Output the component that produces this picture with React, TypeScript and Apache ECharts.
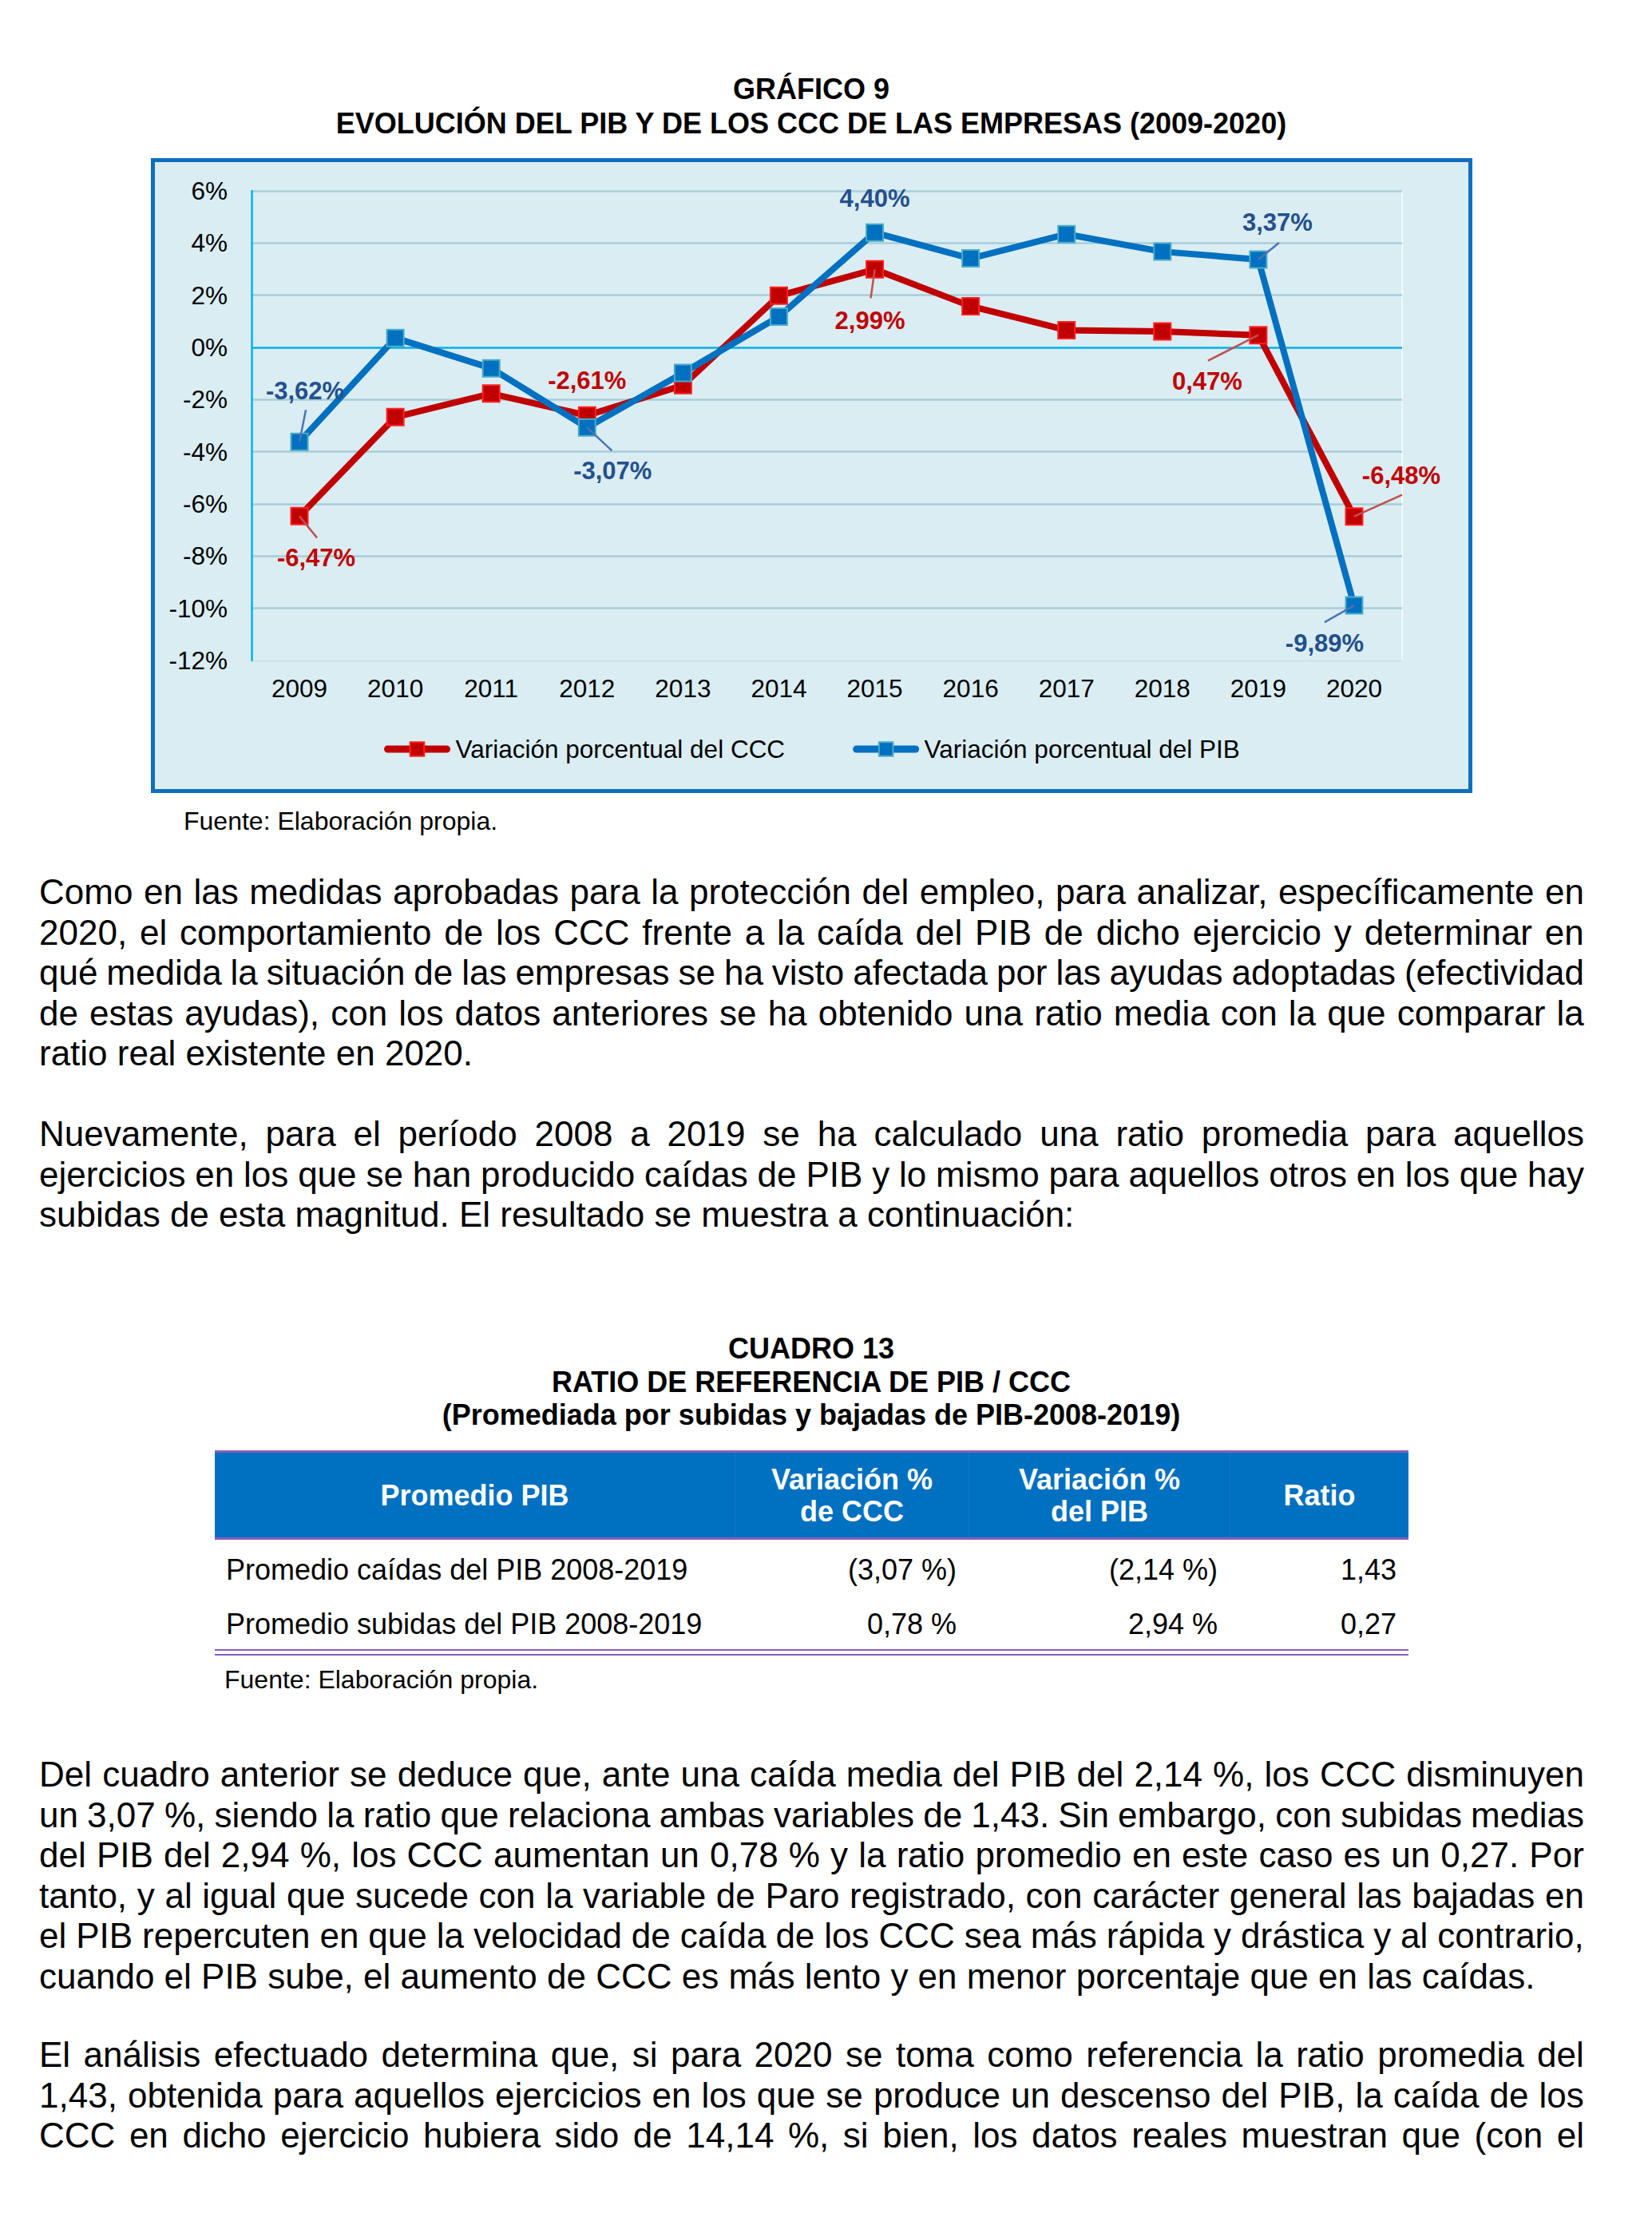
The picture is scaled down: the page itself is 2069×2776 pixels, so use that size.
import React, { useEffect, useRef } from "react";
import * as echarts from "echarts";

// ---------------- DATA ----------------
const YEARS = ["2009", "2010", "2011", "2012", "2013", "2014", "2015", "2016", "2017", "2018", "2019", "2020"];
const CCC = [-6.47, -2.67, -1.77, -2.61, -1.45, 1.98, 2.99, 1.58, 0.66, 0.61, 0.47, -6.48];
const PIB = [-3.62, 0.36, -0.8, -3.07, -0.98, 1.18, 4.4, 3.41, 4.34, 3.67, 3.37, -9.89];
const SERIES_NAMES = ["Variación porcentual del CCC", "Variación porcentual del PIB"];
const Y_MIN = -12;
const Y_MAX = 6;
const Y_STEP = 2;

const TABLE_HEAD = ["Promedio PIB", "Variación %\nde CCC", "Variación %\ndel PIB", "Ratio"];
const TABLE_ROWS = ["Promedio caídas del PIB 2008-2019", "Promedio subidas del PIB 2008-2019"];
const TABLE_CCC = ["(3,07 %)", "0,78 %"];
const TABLE_PIB = ["(2,14 %)", "2,94 %"];
const TABLE_RATIO = ["1,43", "0,27"];

const CHART_TITLE = ["GRÁFICO 9", "EVOLUCIÓN DEL PIB Y DE LOS CCC DE LAS EMPRESAS (2009-2020)"];
const TABLE_TITLE = ["CUADRO 13", "RATIO DE REFERENCIA DE PIB / CCC", "(Promediada por subidas y bajadas de PIB-2008-2019)"];
const SOURCE = "Fuente: Elaboración propia.";

const PARA1 = [
  "Como en las medidas aprobadas para la protección del empleo, para analizar, específicamente en",
  "2020, el comportamiento de los CCC frente a la caída del PIB de dicho ejercicio y determinar en",
  "qué medida la situación de las empresas se ha visto afectada por las ayudas adoptadas (efectividad",
  "de estas ayudas), con los datos anteriores se ha obtenido una ratio media con la que comparar la",
  "ratio real existente en 2020.",
];
const PARA2 = [
  "Nuevamente, para el período 2008 a 2019 se ha calculado una ratio promedia para aquellos",
  "ejercicios en los que se han producido caídas de PIB y lo mismo para aquellos otros en los que hay",
  "subidas de esta magnitud. El resultado se muestra a continuación:",
];
const PARA3 = [
  "Del cuadro anterior se deduce que, ante una caída media del PIB del 2,14 %, los CCC disminuyen",
  "un 3,07 %, siendo la ratio que relaciona ambas variables de 1,43. Sin embargo, con subidas medias",
  "del PIB del 2,94 %, los CCC aumentan un 0,78 % y la ratio promedio en este caso es un 0,27. Por",
  "tanto, y al igual que sucede con la variable de Paro registrado, con carácter general las bajadas en",
  "el PIB repercuten en que la velocidad de caída de los CCC sea más rápida y drástica y al contrario,",
  "cuando el PIB sube, el aumento de CCC es más lento y en menor porcentaje que en las caídas.",
];
const PARA4 = [
  "El análisis efectuado determina que, si para 2020 se toma como referencia la ratio promedia del",
  "1,43, obtenida para aquellos ejercicios en los que se produce un descenso del PIB, la caída de los",
  "CCC en dicho ejercicio hubiera sido de 14,14 %, si bien, los datos reales muestran que (con el",
];

// ---------------- STYLE CONFIG (label placement, px offsets from point) ----------------
const CCC_LABELS = [
  { i: 0, dx: 21, dy: 52 },
  { i: 3, dx: 0, dy: -44 },
  { i: 6, dx: -6, dy: 64 },
  { i: 10, dx: -64, dy: 58 },
  { i: 11, dx: 59, dy: -51 },
];
const PIB_LABELS = [
  { i: 0, dx: 7, dy: -64 },
  { i: 3, dx: 32, dy: 54 },
  { i: 6, dx: 0, dy: -43 },
  { i: 10, dx: 24, dy: -46 },
  { i: 11, dx: -37, dy: 47 },
];
const CCC_LEADERS = [
  { i: 0, dx: 22, dy: 27 },
  { i: 6, dx: -5, dy: 36 },
  { i: 10, dx: -63, dy: 32 },
  { i: 11, dx: 60, dy: -27 },
];
const PIB_LEADERS = [
  { i: 0, dx: 8, dy: -40 },
  { i: 3, dx: 31, dy: 29 },
  { i: 10, dx: 26, dy: -21 },
  { i: 11, dx: -37, dy: 21 },
];

const FONT = '"Liberation Sans", Arial, Helvetica, sans-serif';
const RED = "#C00000";
const BLUE = "#0070C0";
const BLUE_LABEL = "#24508C";
const PURPLE = "#8560B8";

const fmtPct = (v: number) => v.toFixed(2).replace(".", ",") + "%";

function buildData(arr: number[], labels: { i: number; dx: number; dy: number }[], color: string) {
  return arr.map((v, i) => {
    const l = labels.find((x) => x.i === i);
    if (!l) return v;
    return {
      value: v,
      label: {
        show: true,
        position: "inside",
        offset: [l.dx, l.dy],
        formatter: fmtPct(v),
        color,
        fontWeight: "bold",
        fontSize: 31,
        fontFamily: FONT,
      },
    };
  });
}

function leaderSeries(arr: number[], leaders: { i: number; dx: number; dy: number }[], color: string) {
  return {
    type: "custom",
    silent: true,
    z: 5,
    data: leaders.map((l) => [l.i, arr[l.i], l.dx, l.dy]),
    encode: { x: 0, y: 1 },
    renderItem: (params: any, api: any) => {
      const p = api.coord([api.value(0), api.value(1)]);
      return {
        type: "line",
        shape: { x1: p[0], y1: p[1], x2: p[0] + api.value(2), y2: p[1] + api.value(3) },
        style: { stroke: color, lineWidth: 2.5 },
      };
    },
  };
}

function Chart() {
  const ref = useRef<HTMLDivElement>(null);
  useEffect(() => {
    const chart = echarts.init(ref.current!, null, { renderer: "svg" });
    const grid = "#A7CDD8";
    const splitColors = [];
    for (let v = Y_MIN; v <= Y_MAX; v += Y_STEP) {
      splitColors.push(v === 0 ? "#00B0F0" : v === Y_MIN ? "#CDE3EA" : grid);
    }
    chart.setOption({
      animation: false,
      backgroundColor: "transparent",
      textStyle: { fontFamily: FONT },
      grid: {
        left: 121,
        right: 83,
        top: 36,
        bottom: 161,
        show: true,
        borderColor: "#F4FAFC",
        borderWidth: 2,
        backgroundColor: "transparent",
      },
      legend: {
        data: SERIES_NAMES,
        left: 282,
        top: 714,
        itemWidth: 74,
        itemHeight: 22,
        itemGap: 85,
        selectedMode: false,
        lineStyle: { width: 9, cap: "round" },
        textStyle: { fontSize: 31.5, color: "#000", fontFamily: FONT, padding: [0, 0, 0, 6] },
      },
      xAxis: {
        type: "category",
        data: YEARS,
        boundaryGap: true,
        axisLine: { show: false },
        axisTick: { show: false },
        axisLabel: { color: "#000", fontSize: 31.5, fontFamily: FONT, margin: 19 },
        splitLine: { show: false },
      },
      yAxis: {
        type: "value",
        min: Y_MIN,
        max: Y_MAX,
        interval: Y_STEP,
        axisLine: { show: true, lineStyle: { color: "#00B0F0", width: 2.5 } },
        axisTick: { show: false },
        axisLabel: {
          color: "#000",
          fontSize: 31.5,
          fontFamily: FONT,
          margin: 30,
          formatter: (v: number) => v + "%",
        },
        splitLine: { show: true, lineStyle: { color: splitColors, width: 2.5 } },
      },
      series: [
        {
          name: SERIES_NAMES[0],
          type: "line",
          data: buildData(CCC, CCC_LABELS, RED),
          symbol: "rect",
          symbolSize: 21,
          lineStyle: { color: RED, width: 8 },
          itemStyle: { color: RED, borderColor: "#FF2020", borderWidth: 2 },
          emphasis: { disabled: true },
          z: 2,
        },
        {
          name: SERIES_NAMES[1],
          type: "line",
          data: buildData(PIB, PIB_LABELS, BLUE_LABEL),
          symbol: "rect",
          symbolSize: 21,
          lineStyle: { color: BLUE, width: 8 },
          itemStyle: { color: BLUE, borderColor: "#4BACC6", borderWidth: 2 },
          emphasis: { disabled: true },
          z: 3,
        },
        leaderSeries(CCC, CCC_LEADERS, "#C0504D"),
        leaderSeries(PIB, PIB_LEADERS, "#4A74B4"),
      ],
    });
    return () => chart.dispose();
  }, []);
  return <div ref={ref} style={{ width: 1645, height: 785 }} />;
}

const BODY_LEFT = 49;
const BODY_WIDTH = 1935;
const BODY_FS = 44;
const BODY_LH = 50.5;

function Paragraph({ lines, top, justifyLast }: { lines: string[]; top: number; justifyLast?: boolean }) {
  return (
    <>
      {lines.map((ln, k) => {
        const justify = k < lines.length - 1 || justifyLast;
        const style: React.CSSProperties = {
          position: "absolute",
          left: BODY_LEFT,
          top: top + k * BODY_LH,
          width: BODY_WIDTH,
          height: BODY_LH,
          lineHeight: BODY_LH + "px",
          fontSize: BODY_FS,
          whiteSpace: "pre",
        };
        if (!justify) return <div key={k} style={style}>{ln}</div>;
        const words = ln.split(" ");
        return (
          <div key={k} style={{ ...style, display: "flex", justifyContent: "space-between" }}>
            {words.map((w, j) => (
              <span key={j}>{w}</span>
            ))}
          </div>
        );
      })}
    </>
  );
}

function TitleBlock({ lines, top, lh }: { lines: string[]; top: number; lh: number }) {
  return (
    <>
      {lines.map((t, k) => (
        <div
          key={k}
          style={{
            position: "absolute",
            left: 16,
            width: 2000,
            top: top + k * lh,
            height: lh,
            lineHeight: lh + "px",
            fontSize: 36,
            fontWeight: "bold",
            textAlign: "center",
            whiteSpace: "pre",
          }}
        >
          {t}
        </div>
      ))}
    </>
  );
}

const COLS = [651, 293, 327, 224];

function Table() {
  const left = 269;
  const width = COLS.reduce((a, b) => a + b, 0);
  const rowH = 68;
  return (
    <>
      <div
        style={{
          position: "absolute",
          left,
          top: 1816,
          width,
          height: 112,
          boxSizing: "border-box",
          background: BLUE,
          borderTop: `3px solid ${PURPLE}`,
          borderBottom: `3px solid ${PURPLE}`,
          display: "flex",
          color: "#fff",
          fontWeight: "bold",
          fontSize: 36,
        }}
      >
        {TABLE_HEAD.map((h, k) => (
          <div
            key={k}
            style={{
              width: COLS[k],
              height: "100%",
              display: "flex",
              flexDirection: "column",
              justifyContent: "center",
              alignItems: "center",
              textAlign: "center",
              boxSizing: "border-box",
              borderLeft: k > 0 ? "1px solid rgba(255,255,255,0.08)" : "none",
              paddingTop: 2,
            }}
          >
            {h.split("\n").map((s, j) => (
              <div key={j} style={{ lineHeight: "40px", whiteSpace: "pre" }}>
                {s}
              </div>
            ))}
          </div>
        ))}
      </div>
      {TABLE_ROWS.map((r, k) => {
        const cells = [r, TABLE_CCC[k], TABLE_PIB[k], TABLE_RATIO[k]];
        return (
          <div
            key={k}
            style={{
              position: "absolute",
              left,
              top: 1932 + k * rowH,
              width,
              height: rowH,
              display: "flex",
              fontSize: 36,
              lineHeight: rowH + "px",
            }}
          >
            {cells.map((c, j) => (
              <div
                key={j}
                style={{
                  width: COLS[j],
                  boxSizing: "border-box",
                  textAlign: j === 0 ? "left" : "right",
                  paddingLeft: j === 0 ? 14 : 0,
                  paddingRight: j === 0 ? 0 : 15,
                  whiteSpace: "pre",
                }}
              >
                {c}
              </div>
            ))}
          </div>
        );
      })}
      <div
        style={{
          position: "absolute",
          left,
          top: 2065,
          width,
          height: 8,
          boxSizing: "border-box",
          borderTop: `2.5px solid ${PURPLE}`,
          borderBottom: `2.5px solid ${PURPLE}`,
        }}
      />
    </>
  );
}

export default function App() {
  useEffect(() => {
    document.body.style.margin = "0";
  }, []);
  return (
    <div
      style={{
        position: "absolute",
        left: 0,
        top: 0,
        width: 2069,
        height: 2776,
        background: "#fff",
        color: "#000",
        fontFamily: FONT,
        overflow: "hidden",
      }}
    >
      <TitleBlock lines={CHART_TITLE} top={91} lh={42.5} />
      <div
        style={{
          position: "absolute",
          left: 189,
          top: 198,
          width: 1655,
          height: 795,
          boxSizing: "border-box",
          border: "5px solid #0E6FBF",
          background: "#DAEDF3",
        }}
      >
        <Chart />
      </div>
      <div style={{ position: "absolute", left: 230, top: 1012, fontSize: 32, lineHeight: "32px", whiteSpace: "pre" }}>
        {SOURCE}
      </div>
      <Paragraph lines={PARA1} top={1092} />
      <Paragraph lines={PARA2} top={1395} />
      <TitleBlock lines={TABLE_TITLE} top={1668} lh={41.5} />
      <Table />
      <div style={{ position: "absolute", left: 281, top: 2087, fontSize: 32, lineHeight: "32px", whiteSpace: "pre" }}>
        {SOURCE}
      </div>
      <Paragraph lines={PARA3} top={2197} />
      <Paragraph lines={PARA4} top={2548} justifyLast />
    </div>
  );
}
